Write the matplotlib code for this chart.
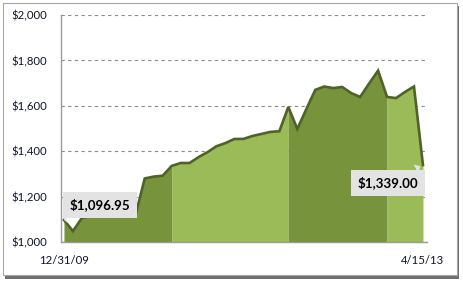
import matplotlib
matplotlib.use("Agg")
import matplotlib.pyplot as plt
from matplotlib.patches import Rectangle
import numpy as np

# ---- data ----
values = [1096.95, 1048, 1106, 1115, 1119, 1120, 1120, 1121, 1123, 1280,
          1288, 1292, 1335, 1348, 1348, 1374, 1396, 1422, 1436, 1454,
          1454, 1467, 1476, 1485, 1488, 1595, 1498, 1585, 1670, 1685,
          1678, 1683, 1656, 1639, 1698, 1755, 1639, 1634, 1661, 1685,
          1339.00]
first_label = "12/31/09"
last_label = "4/15/13"
band_breaks = [0, 12, 25, 36, 40]
band_colors = ["#77933C", "#9BBB59", "#77933C", "#9BBB59"]
y_ticks = [1000, 1200, 1400, 1600, 1800, 2000]

W, H = 463, 282
fig = plt.figure(figsize=(W / 100, H / 100), dpi=100)
fig.patch.set_facecolor("white")

# frame with shadow
fig.patches.append(Rectangle((5 / W, 1 - 279 / H), 454 / W, 273 / H, transform=fig.transFigure,
                             facecolor="#6E6E6E", edgecolor="none", zorder=-3))
fig.patches.append(Rectangle((3 / W, 1 - 275 / H), 454 / W, 272 / H, transform=fig.transFigure,
                             facecolor="white", edgecolor="#A6A6A6", linewidth=0.8, zorder=-2))

ax = fig.add_axes([61 / W, 1 - 242 / H, 366 / W, 227 / H])
ax.set_zorder(1)
ax.set_facecolor("none")
x = np.arange(len(values))
v = np.array(values)

for i in range(len(band_breaks) - 1):
    a, b = band_breaks[i], band_breaks[i + 1]
    ax.fill_between(x[a:b + 1], 1000, v[a:b + 1], color=band_colors[i], linewidth=0, zorder=2)

ax.plot(x, v, color="#4F6228", linewidth=1.9, solid_joinstyle="miter", zorder=3)

ax.set_xlim(-0.33, 40.45)
ax.set_ylim(1000, 2000)
ax.set_yticks(y_ticks)
ax.set_yticklabels(["${:,.0f}".format(t) for t in y_ticks])
ax.set_xticks([0, len(values) - 1])
ax.set_xticklabels([first_label, last_label])
ax.tick_params(axis="both", length=0, labelsize=8.2, labelcolor="#10142a")
ax.tick_params(axis="y", pad=10)
ax.tick_params(axis="x", pad=9)
for lbl in ax.get_xticklabels() + ax.get_yticklabels():
    lbl.set_fontfamily("Lato")

ax.yaxis.grid(True, color="#8c8c8c", linestyle=(0, (3, 3)), linewidth=0.8, zorder=1)
ax.set_axisbelow(True)
for s in ["top", "right"]:
    ax.spines[s].set_visible(False)
for s in ["left", "bottom"]:
    ax.spines[s].set_color("#9a9a9a")
    ax.spines[s].set_linewidth(1.0)
    ax.spines[s].set_zorder(4)

box = dict(boxstyle="square,pad=0.5", fc="#E3E3E3", ec="none")
arrow = dict(arrowstyle="wedge,tail_width=0.7,shrink_factor=0.5", fc="#E3E3E3", ec="none")
ax.annotate("${:,.2f}".format(values[0]), xy=(0, values[0]), xytext=(26, 11),
            textcoords="offset points", ha="center", va="center", fontsize=9.6,
            fontweight="bold", family="Lato", bbox=box, arrowprops=arrow, zorder=6)
ax.annotate("${:,.2f}".format(values[-1]), xy=(len(values) - 1, values[-1]), xytext=(-25, -13),
            textcoords="offset points", ha="center", va="center", fontsize=9.6,
            fontweight="bold", family="Lato", bbox=box, arrowprops=arrow, zorder=6)

fig.savefig("out.png", dpi=100)
